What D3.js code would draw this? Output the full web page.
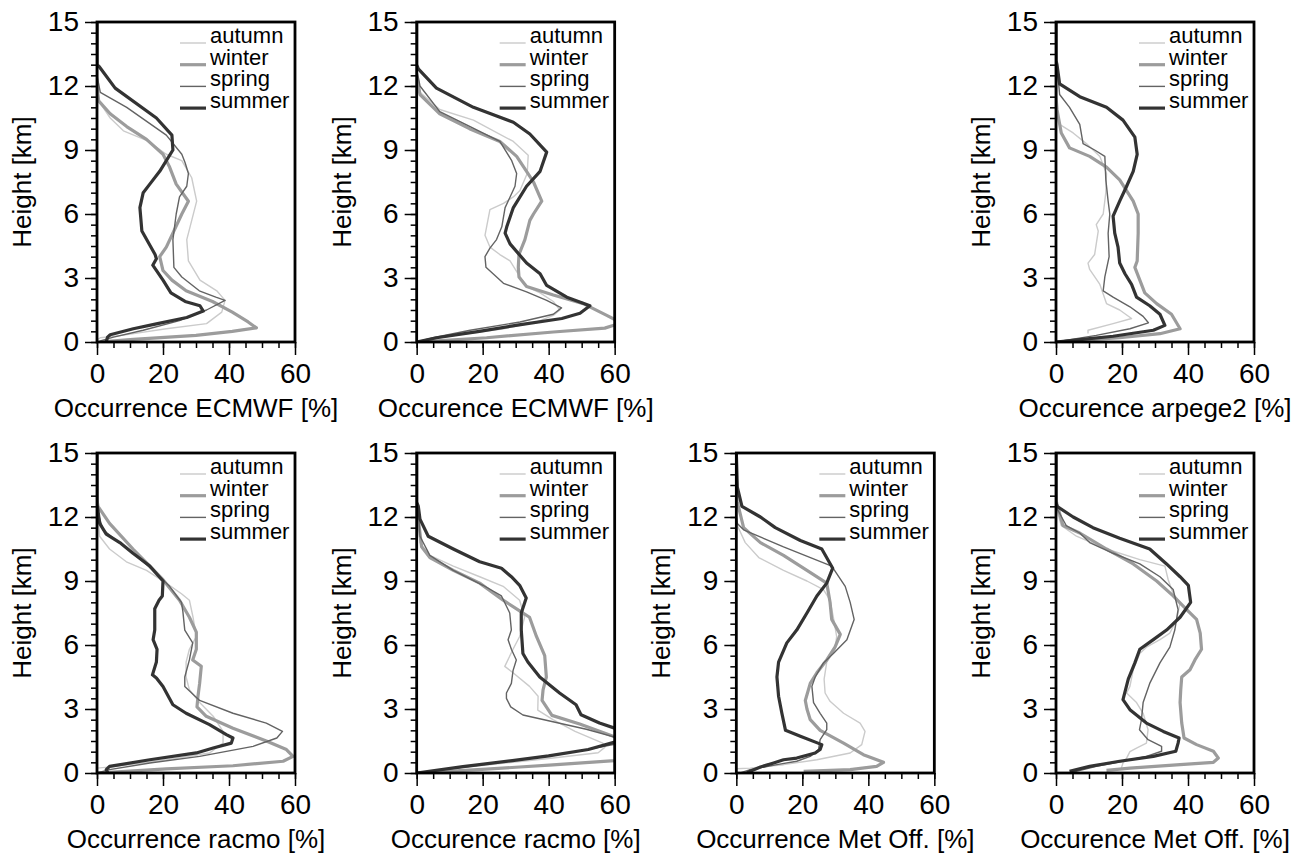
<!DOCTYPE html>
<html>
<head>
<meta charset="utf-8">
<script src="https://cdn.jsdelivr.net/npm/d3@7"></script>
<style>
  body { margin: 0; background: #fff; }
  svg { display: block; }
  text { font-family: "Liberation Sans", Arial, Helvetica, sans-serif; fill: #000; }
</style>
</head>
<body>
<svg id="chart" width="1308" height="855"></svg>
<script>
// Seasonal cloud-occurrence profiles: [occurrence %, height km], listed top to bottom.

// ECMWF (first panel)
const ecmwf1Autumn = [[0,15],[0,12],[0.5,11.3],[4,10.5],[8,9.9],[15,9.45],[21,8.8],[25.7,8.5],[28.7,7.7],[30.2,6.6],[28.2,5.4],[27.2,4.8],[27.7,3.8],[31.2,2.9],[36.3,2.4],[38.8,1.95],[37.8,1.4],[33.2,0.86],[21,0.62],[7,0.3],[1,0.2],[0,0.1]];
const ecmwf1Winter = [[0,15],[0,12],[0.5,11.3],[4,10.7],[9,10.1],[15,9.5],[20,8.8],[22,8.2],[24,7.4],[27.7,6.6],[25.7,6.0],[23,5.1],[21,4.45],[19,4.0],[20,3.35],[22.7,2.9],[27,2.4],[35,1.9],[41,1.4],[45.8,0.94],[48.3,0.66],[41,0.5],[30,0.31],[11,0.12],[0.5,0]];
const ecmwf1Spring = [[0,15],[0,12.5],[1,11.7],[9,11],[21,9.7],[25.7,8.8],[26.7,8.4],[27.7,7.9],[27.2,7.3],[25,6.8],[24,6.0],[23,4.8],[23.3,3.5],[25.7,3.05],[31,2.4],[36,2.1],[38.8,1.95],[33.2,1.5],[25,1.0],[14,0.55],[5,0.23],[1,0.05]];
const ecmwf1Summer = [[0,15],[0,13.0],[0.7,12.9],[5.5,11.9],[18,10.5],[22.7,9.7],[23,9.0],[19,8.0],[16,7.4],[14,7.0],[13,6.3],[13.6,5.2],[17.6,4.1],[18,3.9],[16.9,3.6],[20,2.9],[22.4,2.3],[26.7,1.9],[31.2,1.7],[32.2,1.45],[27.2,1.15],[18,0.85],[11,0.62],[4,0.34],[3.2,0.23],[2.8,0]];

// ECMWF (second panel)
const ecmwf2Autumn = [[0,15],[0,12.5],[1,11.7],[7,10.9],[17.2,10.4],[29.3,9.4],[33.8,8.75],[33.5,7.9],[31.3,7.1],[29.3,6.8],[26.3,6.5],[22.2,6.2],[20.7,5.0],[22.2,4.45],[25.2,4.1],[28.3,3.8],[31.3,3.05],[33.3,2.6],[37.4,2.3],[41.4,1.9],[43.4,1.5],[41.4,1.25],[36.4,0.94],[26.3,0.62],[11,0.3],[0,0]];
const ecmwf2Winter = [[0,15],[0,12.5],[1,11.6],[7,10.7],[16,10],[25.2,9.4],[30.3,8.7],[33.3,8.0],[35.4,7.5],[37.9,6.6],[35.4,6.0],[34.3,5.7],[33.8,5.4],[32.8,4.8],[31,4.1],[30.8,3.5],[31,3.05],[33.3,2.6],[41.4,2.2],[50.5,1.8],[57.6,1.25],[62,0.9],[57,0.65],[41.4,0.47],[21.2,0.2],[0,0]];
const ecmwf2Spring = [[0,15],[0,12.8],[1,12],[7,10.8],[16.2,10.1],[25.2,9.4],[28.8,8.5],[30.3,7.9],[29.8,7.3],[28.3,6.8],[26.8,6.3],[25.8,5.4],[24.2,4.8],[22.2,4.4],[20.7,4.0],[21,3.5],[26.3,2.75],[33.3,2.35],[39.4,1.95],[43.9,1.6],[41.4,1.3],[31.3,0.94],[16.2,0.55],[5,0.2],[0,0]];
const ecmwf2Summer = [[0,15],[0,13],[0.5,12.8],[6,11.9],[17.2,11.0],[29.3,10.3],[34.3,9.75],[39.4,8.9],[37.4,8.0],[33.3,7.3],[29.3,6.3],[27.3,5.4],[26.8,5.1],[28.3,4.6],[33.3,3.7],[37.4,3.2],[39.4,2.65],[45.5,2.1],[52.5,1.7],[49.5,1.35],[44,1.1],[31,0.8],[19,0.5],[6,0.2],[0,0]];

// arpege2
const arpegeAutumn = [[0,15],[0,11.5],[0.3,11],[1.1,10.2],[5.2,9.8],[9.2,9.3],[13.3,8.7],[15.3,7.9],[15.1,7.0],[14.3,6.0],[12.2,5.5],[12.8,5.2],[12.2,4.6],[11.7,4.1],[9.7,3.7],[10.2,3.4],[13.3,2.7],[15.3,1.8],[19.3,1.5],[22.9,1.1],[17.3,0.86],[9.7,0.55],[9.7,0.4]];
const arpegeWinter = [[0,15],[0,11.5],[0.3,10.9],[1.6,9.8],[4.1,9.1],[10.2,8.7],[15.3,8.2],[19.3,7.6],[23.4,6.6],[24.9,6.0],[24.9,5.1],[24.6,3.8],[23.9,3.5],[25.4,2.9],[26.9,2.3],[30.5,1.8],[35,1.3],[37.6,0.62],[31.5,0.39],[19.3,0.2],[0,0]];
const arpegeSpring = [[0,15],[0,13.2],[0.3,13],[1.1,11.6],[4.1,11],[7.2,10.2],[8.2,9.3],[11.7,9.0],[14.8,8.7],[15.1,7.6],[15.8,6.6],[16.3,6.0],[15.8,5.1],[16.1,4.0],[14.8,3.05],[14.3,2.4],[17.3,2.1],[22.4,1.65],[26.4,1.2],[28,0.9],[22.4,0.62],[12.2,0.31],[0,0]];
const arpegeSummer = [[0,15],[0,13.2],[0.3,13.0],[1.1,12.1],[7.2,11.5],[15.3,11.0],[20.3,10.4],[23.9,9.6],[24.6,8.8],[23.4,8.0],[21.4,7.3],[19.3,6.6],[17.3,5.9],[17.8,5.1],[18.8,4.45],[19.3,3.7],[20.9,3.2],[22.9,2.7],[24.4,2.1],[28.4,1.7],[31.5,1.3],[33,0.78],[29.5,0.55],[17.3,0.27],[7.2,0.11],[0,0]];

// racmo (first panel)
const racmo1Autumn = [[0,15],[0,12.3],[0.3,12],[0.8,11.1],[3.8,10.5],[8.9,9.9],[15,9.5],[21,8.9],[25.6,8.4],[28,8.1],[29.1,7.3],[30.1,6.4],[28,5.8],[27,5.2],[27,4.5],[28,3.9],[31.1,3.3],[35.2,2.66],[38.2,1.95],[38.2,1.4],[34.1,0.94],[21,0.62],[5.9,0.31],[0,0.23]];
const racmo1Winter = [[0,15],[0,12.8],[0.3,12.5],[3.8,11.7],[10.9,10.5],[16,9.7],[20,9.06],[25,8.1],[28,7.3],[30.1,6.6],[30.1,5.8],[29,5.3],[31.6,5.0],[31.1,4.2],[30.6,3.6],[30.3,3.1],[33.1,2.66],[41.2,2.1],[51.3,1.5],[57.4,1.1],[59.4,0.78],[56.4,0.55],[41.2,0.34],[21,0.19],[0,0]];
const racmo1Spring = [[0,15],[0,12.5],[0.3,12.2],[1.8,11.4],[5.9,10.9],[10.9,10.3],[17,9.5],[22,8.75],[25.6,8.0],[26,7.6],[26.6,6.7],[29,6.1],[28,5.3],[26.6,4.5],[26.6,4.06],[31.1,3.4],[41.2,2.8],[51.3,2.34],[56.2,1.95],[54.5,1.64],[47.3,1.25],[31.1,0.78],[16,0.47],[3.8,0.16],[0,0]];
const racmo1Summer = [[0,15],[0,12.6],[0.3,12.3],[0.8,11.7],[2.8,11.2],[6.9,10.8],[10.9,10.3],[16,9.7],[20,9.0],[19.8,8.3],[18.8,8.1],[17.5,7.7],[17.5,6.7],[17,6.25],[18.2,5.8],[18,5.2],[16.8,4.6],[18,4.45],[20,4.05],[23,3.2],[27,2.8],[34.1,2.27],[39.2,1.8],[41.2,1.64],[40.7,1.4],[35.2,1.17],[30.1,0.94],[16,0.62],[3.8,0.31],[2.8,0.16],[3.3,0]];

// racmo (second panel)
const racmo2Autumn = [[0,15],[0,12],[0.5,11.7],[1,10.8],[4,10.2],[11.1,9.7],[19.1,9.2],[26.2,8.75],[31.2,8.1],[32.7,7.3],[31.2,6.4],[29.2,5.8],[26.7,5.0],[29.2,4.7],[34.2,4.06],[36.8,3.6],[36.7,2.95],[41.3,2.5],[48,1.95],[56.4,1.4],[57,1.2],[55,0.95],[40,0.68],[26,0.45],[12,0.22],[0,0]];
const racmo2Winter = [[0,15],[0,12.3],[0.5,11.9],[1.5,10.6],[4,10.1],[11.1,9.5],[19.1,8.9],[26.2,8.1],[31.2,7.6],[34.2,7.3],[36.3,6.4],[38.8,5.5],[39.3,4.5],[38.3,3.9],[38,3.4],[41,2.7],[49.4,2.3],[60,1.7],[68,1.1],[60,0.58],[41.3,0.38],[21.1,0.18],[0,0]];
const racmo2Spring = [[0,15],[0,12.6],[0.5,12.3],[1,11.1],[4,10.2],[11.1,9.5],[20.1,8.8],[25.7,8.3],[28.2,7.5],[28.7,6.7],[27.7,6.25],[28.7,5.8],[30.2,5.3],[29.2,4.8],[28.7,4.2],[27.2,3.75],[27.2,3.5],[28.5,3.1],[32.2,2.72],[41.3,2.4],[51.4,2.05],[60,1.68],[64,1.5],[60,1.35],[50,1.05],[35,0.7],[18,0.35],[5,0.1],[0,0]];
const racmo2Summer = [[0,15],[0,12.7],[0.5,12.5],[1,11.9],[3.5,11.1],[11.1,10.5],[19.1,9.9],[25.7,9.6],[28.7,9.2],[31.2,8.8],[33.2,8.2],[31.7,7.5],[31.7,6.7],[32.2,5.6],[33.7,5.2],[37.3,4.5],[43.3,3.75],[48.3,3.2],[49.8,2.73],[55.4,2.34],[60,2.1],[63,1.8],[60,1.45],[52,1.1],[40,0.8],[29,0.58],[14,0.3],[0,0]];

// Met Office (first panel)
const metoff1Autumn = [[0,15],[0,12],[0.3,11.6],[2.7,10.8],[6.8,10.1],[14.3,9.5],[21.4,9.0],[26.4,8.6],[28.4,8.1],[29.4,7.3],[30.4,6.4],[29.9,5.8],[27.4,5.2],[26.6,4.4],[26.9,3.75],[28.4,3.36],[32.5,2.8],[37.5,2.34],[39,1.95],[38,1.33],[34.5,0.94],[24.4,0.62],[14.3,0.39],[4.2,0.23],[0,0.2]];
const metoff1Winter = [[0,15],[0,13],[0.3,12.7],[2.2,11.5],[7.3,10.8],[14.3,10.2],[21.4,9.5],[27.4,8.9],[28.4,8.0],[28.9,7.2],[31.5,6.5],[29.9,5.9],[27.4,5.3],[24.4,4.7],[22.4,4.2],[20.9,3.4],[21.4,3.0],[22.4,2.5],[25.4,2.0],[32.5,1.4],[38.5,0.86],[44.6,0.5],[42.5,0.31],[34.5,0.16],[20.4,0.08]];
const metoff1Spring = [[0,15],[0,12],[0.3,11.7],[2.2,11.4],[14.3,10.6],[28.9,9.7],[33,8.75],[34.5,8.0],[35.7,7.2],[33.5,6.25],[29.4,5.6],[26.4,5.16],[23.9,4.5],[22.9,4.06],[23.4,3.3],[25.4,2.8],[27.4,2.34],[27.4,2.03],[25.4,1.56],[24.9,1.1],[22.4,0.78],[18.3,0.55],[12.3,0.39],[4.2,0.16],[1.2,0]];
const metoff1Summer = [[0,15],[0.3,13.4],[1.7,12.5],[7.3,12],[11.8,11.5],[19.4,10.9],[25.9,10.5],[29.2,9.6],[27.4,8.9],[24.4,8.3],[21.4,7.5],[18.3,6.7],[15.3,6.1],[12.8,5.2],[12.3,4.5],[12.8,3.6],[13.8,2.8],[14.9,2.0],[19.4,1.72],[25.9,1.33],[25.4,1.1],[23.9,0.94],[18.3,0.7],[14.3,0.62],[11.3,0.47],[7.3,0.28],[4.2,0.08],[3.2,0]];

// Met Office (second panel)
const metoff2Autumn = [[0,15],[0,12.6],[0.3,12.3],[1.6,11.6],[6.2,11.1],[15.3,10.5],[25.4,10],[33,9.7],[34,9.06],[35.5,8.4],[37.6,8.0],[36.6,7.2],[34.5,6.56],[31.5,6.25],[27.4,5.9],[25.4,5.6],[23.4,4.84],[22.4,4.06],[21.4,3.75],[24.4,3.3],[26.4,2.8],[27.9,2.03],[27.4,1.4],[24.4,1.17],[22.4,1.0],[21.4,0.7],[20.3,0.47],[19.8,0.23]];
const metoff2Winter = [[0,15],[0,12.8],[0.3,12.6],[2.1,11.6],[7.2,11.25],[15.3,10.5],[23.4,9.8],[30.5,9.0],[35.5,8.3],[39.6,7.66],[42.6,7.2],[43.7,6.56],[44.1,5.8],[42.1,5.3],[40.6,4.84],[38.1,4.5],[37.8,3.9],[37.6,3.3],[38.1,2.34],[38.8,1.64],[42.6,1.33],[47.7,1.02],[49.2,0.7],[47.7,0.5],[37.6,0.39],[22.4,0.23],[15.3,0.12]];
const metoff2Spring = [[0,15],[0,12.7],[0.3,12.4],[3.1,11.6],[7.2,11.25],[10.2,10.8],[17.3,10.3],[25.4,9.8],[31.5,9.2],[35.5,8.6],[37,7.66],[36,6.7],[34.5,5.9],[31.5,5.16],[28.4,4.2],[26.4,3.3],[25.9,2.5],[25.3,2.03],[27.9,1.56],[32,1.25],[32,1.02],[27.4,0.78],[20.3,0.55],[12.2,0.31],[4.1,0]];
const metoff2Summer = [[0,15],[0,12.7],[0.3,12.5],[5.2,12],[11.2,11.5],[19.3,11],[28.4,10.5],[33.5,9.8],[37.6,9.2],[40.1,8.8],[40.8,8.0],[37.6,7.3],[33.5,6.7],[29.5,6.25],[25.4,5.8],[23.9,5.16],[21.9,4.4],[20.3,3.44],[22.4,2.97],[27.4,2.34],[32.5,1.95],[37.3,1.64],[37,1.4],[36.3,1.02],[29.5,0.78],[19.3,0.55],[10.2,0.31],[4.1,0.08]];

// Axis ticks and legend labels
const seasons = ["autumn", "winter", "spring", "summer"];
const xMajorTicks = [0, 20, 40, 60];
const xMinorTicks = d3.range(0, 60.01, 5);
const yMajorTicks = [0, 3, 6, 9, 12, 15];
const yMinorTicks = d3.range(0, 15.01, 0.5);
const xTitles = [
  "Occurrence ECMWF [%]", "Occurence ECMWF [%]", "Occurence arpege2 [%]",
  "Occurrence racmo [%]", "Occurence racmo [%]", "Occurrence Met Off. [%]", "Occurence Met Off. [%]"
];
const yTitle = "Height [km]";

// Panel table: grid slot + profiles
const panels = [
  { row: 0, col: 0, title: xTitles[0], data: [ecmwf1Autumn, ecmwf1Winter, ecmwf1Spring, ecmwf1Summer] },
  { row: 0, col: 1, title: xTitles[1], data: [ecmwf2Autumn, ecmwf2Winter, ecmwf2Spring, ecmwf2Summer] },
  { row: 0, col: 3, title: xTitles[2], data: [arpegeAutumn, arpegeWinter, arpegeSpring, arpegeSummer] },
  { row: 1, col: 0, title: xTitles[3], data: [racmo1Autumn, racmo1Winter, racmo1Spring, racmo1Summer] },
  { row: 1, col: 1, title: xTitles[4], data: [racmo2Autumn, racmo2Winter, racmo2Spring, racmo2Summer] },
  { row: 1, col: 2, title: xTitles[5], data: [metoff1Autumn, metoff1Winter, metoff1Spring, metoff1Summer] },
  { row: 1, col: 3, title: xTitles[6], data: [metoff2Autumn, metoff2Winter, metoff2Spring, metoff2Summer] }
];

// Styles
const seasonStroke = { autumn: "#cbcbcb", winter: "#9c9c9c", spring: "#636363", summer: "#333333" };
const seasonWidth = { autumn: 1.4, winter: 3.2, spring: 1.4, summer: 3.2 };

// Layout
const plotW = 198, plotH = 320;
const colLeft = d3.scaleLinear().domain([0, 3]).range([97, 1056]);
const rowTop = d3.scaleLinear().domain([0, 1]).range([22, 453]);

const svg = d3.select("#chart");

panels.forEach((p, i) => {
  const g = svg.append("g").attr("transform", `translate(${colLeft(p.col)},${rowTop(p.row)})`);
  const x = d3.scaleLinear().domain([0, 60]).range([0, plotW]);
  const y = d3.scaleLinear().domain([0, 15]).range([plotH, 0]);

  const clipId = "clip" + i;
  g.append("clipPath").attr("id", clipId)
    .append("rect").attr("width", plotW).attr("height", plotH);

  // minor ticks
  g.append("g").attr("transform", `translate(0,${plotH})`)
    .call(d3.axisBottom(x).tickValues(xMinorTicks).tickSize(6).tickFormat(""))
    .call(a => a.select(".domain").remove())
    .call(a => a.selectAll("line").attr("stroke-width", 1.5));
  g.append("g")
    .call(d3.axisLeft(y).tickValues(yMinorTicks).tickSize(6).tickFormat(""))
    .call(a => a.select(".domain").remove())
    .call(a => a.selectAll("line").attr("stroke-width", 1.5));

  // major ticks with labels
  g.append("g").attr("transform", `translate(0,${plotH})`)
    .call(d3.axisBottom(x).tickValues(xMajorTicks).tickSize(13).tickPadding(8))
    .call(a => a.select(".domain").remove())
    .call(a => a.selectAll("line").attr("stroke-width", 1.5))
    .call(a => a.selectAll("text").attr("font-size", 28).attr("font-family", null));
  g.append("g")
    .call(d3.axisLeft(y).tickValues(yMajorTicks).tickSize(12).tickPadding(6))
    .call(a => a.select(".domain").remove())
    .call(a => a.selectAll("line").attr("stroke-width", 1.5))
    .call(a => a.selectAll("text").attr("font-size", 28).attr("font-family", null));

  // profiles
  const line = d3.line().x(d => x(d[0])).y(d => y(d[1]));
  const lines = g.append("g").attr("clip-path", `url(#${clipId})`);
  seasons.forEach((s, k) => {
    lines.append("path")
      .datum(p.data[k])
      .attr("d", line)
      .attr("fill", "none")
      .attr("stroke", seasonStroke[s])
      .attr("stroke-width", seasonWidth[s])
      .attr("stroke-linejoin", "round");
  });

  // legend
  const leg = g.append("g");
  seasons.forEach((s, k) => {
    const ly = 21 + k * 21.7;
    leg.append("line")
      .attr("x1", 83).attr("x2", 109).attr("y1", ly).attr("y2", ly)
      .attr("stroke", seasonStroke[s]).attr("stroke-width", seasonWidth[s]);
    leg.append("text")
      .attr("x", 113).attr("y", ly)
      .attr("font-size", 22)
      .text(s);
  });

  // frame
  g.append("rect")
    .attr("width", plotW).attr("height", plotH)
    .attr("fill", "none").attr("stroke", "#000").attr("stroke-width", 2.8);

  // axis titles
  g.append("text")
    .attr("x", plotW / 2).attr("y", plotH + 75)
    .attr("text-anchor", "middle").attr("font-size", 26)
    .text(p.title);
  g.append("text")
    .attr("transform", `translate(-66,${plotH / 2}) rotate(-90)`)
    .attr("text-anchor", "middle").attr("font-size", 26)
    .text(yTitle);
});
</script>
</body>
</html>
